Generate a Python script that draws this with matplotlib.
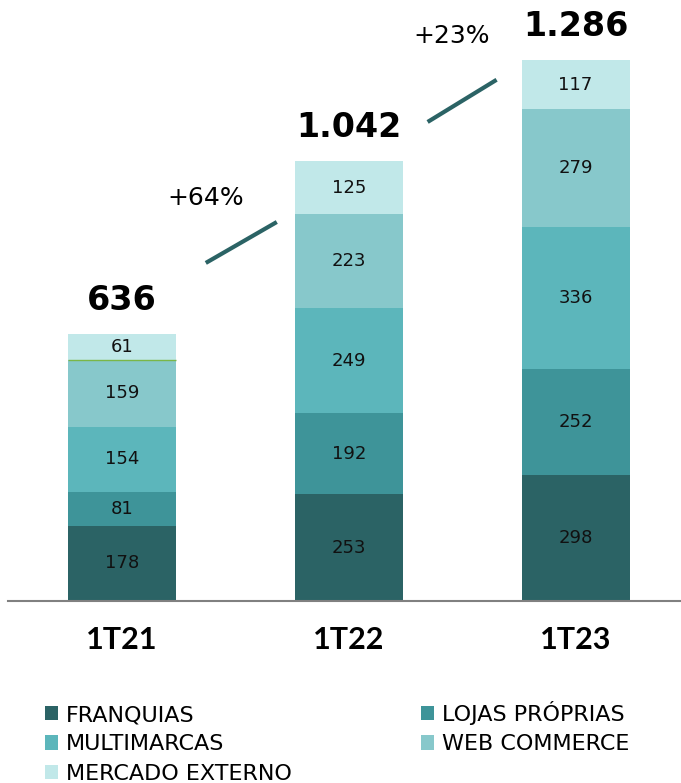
import matplotlib
matplotlib.use("Agg")
import matplotlib.pyplot as plt
import numpy as np

plt.rcParams['font.family'] = ['DejaVu Sans']

# dados
periodos = ['1T21', '1T22', '1T23']
franquias = [178, 253, 298]
lojas_proprias = [81, 192, 252]
multimarcas = [154, 249, 336]
web_commerce = [159, 223, 279]
mercado_externo = [61, 125, 117]
totais = ['636', '1.042', '1.286']
crescimento = ['+64%', '+23%']

series = [
    ('FRANQUIAS', franquias, '#2b6365'),
    ('LOJAS PRÓPRIAS', lojas_proprias, '#3e9499'),
    ('MULTIMARCAS', multimarcas, '#5cb6bb'),
    ('WEB COMMERCE', web_commerce, '#87c8cb'),
    ('MERCADO EXTERNO', mercado_externo, '#c1e8e9'),
]

fig = plt.figure(figsize=(6.81, 7.83), dpi=100)
ax = fig.add_axes([8 / 681, (783 - 601) / 783, 673 / 681, 601 / 783])

x = np.arange(len(periodos))
base = np.zeros(len(periodos))
handles = {}
for nome, vals, cor in series:
    bars = ax.bar(x, vals, width=0.476, bottom=base, color=cor, edgecolor='none')
    handles[nome] = bars
    for xi, b, v in zip(x, base, vals):
        ax.text(xi, b + v / 2, str(v), ha='center', va='center',
                fontsize=13, color='#111111')
    base = base + np.array(vals)

# linha verde fina no topo do web commerce de 1T21 (como no original)
topo_web = np.array(franquias) + lojas_proprias + multimarcas + web_commerce
ax.hlines(topo_web[0], -0.238, 0.238, color='#7ab648', lw=1, zorder=3)

# totais acima das barras
for xi, topo, t in zip(x, base, totais):
    ax.annotate(t, (xi, topo), xytext=(0, 24), textcoords='offset points',
                ha='center', va='center', fontsize=24, fontweight='bold')

# linhas de crescimento
ax.plot([0.37, 0.683], [801, 898], color='#2b6365', lw=3, solid_capstyle='butt')
ax.plot([1.348, 1.652], [1135, 1235], color='#2b6365', lw=3, solid_capstyle='butt')
ax.text(0.37, 955, crescimento[0], ha='center', va='center', fontsize=18)
ax.text(1.454, 1339, crescimento[1], ha='center', va='center', fontsize=18)

ax.set_xlim(-0.502, 2.465)
ax.set_ylim(0, 1424)
ax.set_xticks(x)
ax.set_xticklabels(periodos, fontsize=22, fontweight='bold', family=['Lato', 'DejaVu Sans'])
ax.tick_params(axis='x', length=0, pad=18)
ax.set_yticks([])
for s in ['top', 'right', 'left']:
    ax.spines[s].set_visible(False)
ax.spines['bottom'].set_color('#808080')
ax.spines['bottom'].set_linewidth(1.5)

ordem = ['FRANQUIAS', 'MULTIMARCAS', 'MERCADO EXTERNO', 'LOJAS PRÓPRIAS', 'WEB COMMERCE']
fig.legend([handles[n] for n in ordem], ordem, ncol=2, loc='upper left',
           bbox_to_anchor=(45 / 681, 1 - 701 / 783), frameon=False,
           handlelength=0.6, handleheight=0.6, handletextpad=0.35,
           columnspacing=5.8, labelspacing=0.42, borderpad=0, borderaxespad=0,
           prop={'size': 16})

fig.savefig('out.png', dpi=100)
